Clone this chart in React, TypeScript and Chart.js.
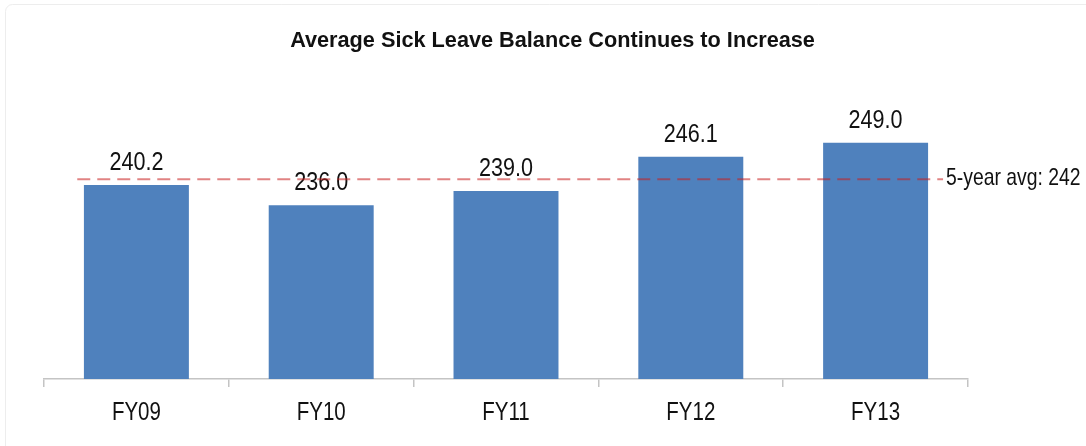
import React, { useEffect, useRef } from "react";
import { Chart, registerables } from "chart.js";

Chart.register(...registerables);

const categories = ["FY09", "FY10", "FY11", "FY12", "FY13"];
const balances = [240.2, 236.0, 239.0, 246.1, 249.0];
const avgLineValue = 241.4;
const avgLabel = "5-year avg: 242";
const chartTitle = "Average Sick Leave Balance Continues to Increase";
const yMin = 200;
const yMax = 260;

const SANS = '"Liberation Sans", Arial, sans-serif';
const NARROW_SCALE = 0.82;

function drawNarrow(
  ctx: CanvasRenderingContext2D,
  text: string,
  x: number,
  y: number,
  size: number,
  align: CanvasTextAlign,
  baseline: CanvasTextBaseline
) {
  ctx.save();
  ctx.translate(x, y);
  ctx.scale(NARROW_SCALE, 1);
  ctx.font = `${size}px ${SANS}`;
  ctx.fillStyle = "#111111";
  ctx.textAlign = align;
  ctx.textBaseline = baseline;
  ctx.fillText(text, 0, 0);
  ctx.restore();
}

export default function App() {
  const ref = useRef<HTMLCanvasElement | null>(null);

  useEffect(() => {
    if (!ref.current) return;

    const framePlugin = {
      id: "frame",
      beforeDraw(chart: any) {
        const ctx = chart.ctx;
        ctx.save();
        ctx.fillStyle = "#ffffff";
        ctx.fillRect(0, 0, chart.width, chart.height);
        ctx.strokeStyle = "#ededed";
        ctx.lineWidth = 1;
        ctx.beginPath();
        (ctx as any).roundRect(5.5, 4.5, chart.width + 20, chart.height + 20, 7);
        ctx.stroke();
        ctx.restore();
      },
    };

    const titlePlugin = {
      id: "customTitle",
      afterDraw(chart: any) {
        const ctx = chart.ctx;
        ctx.save();
        ctx.font = `bold 21.7px ${SANS}`;
        ctx.fillStyle = "#111111";
        ctx.textAlign = "center";
        ctx.textBaseline = "alphabetic";
        ctx.fillText(chartTitle, 552.5, 46.7);
        ctx.restore();
      },
    };

    const tickLabelPlugin = {
      id: "narrowTicks",
      afterDraw(chart: any) {
        const xs = chart.scales.x;
        const ctx = chart.ctx;
        categories.forEach((c, i) => {
          drawNarrow(ctx, c, xs.getPixelForValue(i), xs.top + 41, 25, "center", "alphabetic");
        });
      },
    };

    const labelPlugin = {
      id: "valueLabels",
      afterDatasetsDraw(chart: any) {
        const ctx = chart.ctx;
        const meta = chart.getDatasetMeta(0);
        meta.data.forEach((bar: any, i: number) => {
          drawNarrow(ctx, balances[i].toFixed(1), bar.x, bar.y - 15, 26.3, "center", "alphabetic");
        });
      },
    };

    const avgPlugin = {
      id: "avgLine",
      afterDatasetsDraw(chart: any) {
        const ctx = chart.ctx;
        const xs = chart.scales.x;
        const ys = chart.scales.y;
        const y = ys.getPixelForValue(avgLineValue);
        const x0 = xs.getPixelForValue(-0.32);
        const x1 = xs.getPixelForValue(categories.length - 1 + 0.365);
        ctx.save();
        ctx.strokeStyle = "rgba(200, 30, 30, 0.55)";
        ctx.lineWidth = 2;
        ctx.setLineDash([13, 7]);
        ctx.beginPath();
        ctx.moveTo(x0, y);
        ctx.lineTo(x1, y);
        ctx.stroke();
        ctx.restore();
        drawNarrow(ctx, avgLabel, x1 + 3, y - 1, 23.6, "left", "middle");
      },
    };

    const chart = new Chart(ref.current, {
      type: "bar",
      data: {
        labels: categories,
        datasets: [
          {
            data: balances,
            backgroundColor: "#4F81BD",
            borderWidth: 0,
            categoryPercentage: 1,
            barPercentage: 0.568,
          },
        ],
      },
      options: {
        animation: false,
        responsive: true,
        maintainAspectRatio: false,
        layout: { padding: { left: 44, right: 118, top: 89.6, bottom: 22 } },
        plugins: {
          legend: { display: false },
          title: { display: false },
          tooltip: { enabled: false },
        },
        scales: {
          x: {
            grid: {
              offset: true,
              drawOnChartArea: false,
              drawTicks: true,
              tickLength: 8,
              color: "#c4c4c4",
              lineWidth: 1.5,
            },
            border: { display: true, color: "#c4c4c4", width: 1.5 },
            ticks: { display: false },
            afterFit: (s: any) => {
              s.height = 45;
            },
          },
          y: {
            display: false,
            min: yMin,
            max: yMax,
          },
        },
      },
      plugins: [framePlugin, titlePlugin, tickLabelPlugin, labelPlugin, avgPlugin],
    });

    return () => chart.destroy();
  }, []);

  return (
    <div style={{ position: "absolute", left: 0, top: 0, width: 1086, height: 446 }}>
      <canvas ref={ref} />
    </div>
  );
}
